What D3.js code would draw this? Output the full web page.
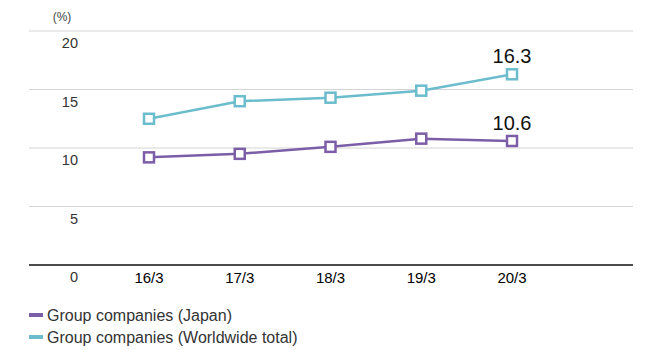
<!DOCTYPE html>
<html>
<head>
<meta charset="utf-8">
<script src="https://cdn.jsdelivr.net/npm/d3@7"></script>
<style>
  body { margin: 0; background: #fff; }
  text { font-family: "Liberation Sans", Arial, sans-serif; }
</style>
</head>
<body>
<svg id="paper"></svg>
<script>
let categories = ["16/3", "17/3", "18/3", "19/3", "20/3"];
let japan = [9.2, 9.5, 10.1, 10.8, 10.6];
let worldwide = [12.5, 14.0, 14.3, 14.9, 16.3];
let yTicks = [0, 5, 10, 15, 20];
let seriesNames = ["Group companies (Japan)", "Group companies (Worldwide total)"];
let seriesColors = ["#7b5ea7", "#6bbccc"];

let width = 653, height = 350;
let plotLeft = 29, plotRight = 633, plotTop = 31, plotBottom = 265;

let svg = d3.select("#paper")
    .attr("width", width)
    .attr("height", height);

let x = d3.scalePoint()
    .domain(categories)
    .range([149, 512]);

let y = d3.scaleLinear()
    .domain([0, 20])
    .range([plotBottom, plotTop]);

// gridlines
svg.selectAll(".grid")
    .data(yTicks.filter(d => d > 0))
    .enter()
    .append("line")
    .attr("x1", plotLeft)
    .attr("x2", plotRight)
    .attr("y1", d => y(d))
    .attr("y2", d => y(d))
    .attr("stroke", "#d4d4d4")
    .attr("stroke-width", 1);

svg.append("line")
    .attr("x1", plotLeft)
    .attr("x2", plotRight)
    .attr("y1", y(0))
    .attr("y2", y(0))
    .attr("stroke", "#111")
    .attr("stroke-width", 1.3);

// y tick labels
svg.selectAll(".ylab")
    .data(yTicks)
    .enter()
    .append("text")
    .attr("x", 78)
    .attr("y", d => y(d) + 17)
    .attr("text-anchor", "end")
    .attr("font-size", 14.5)
    .attr("fill", "#333")
    .text(d => d);

svg.append("text")
    .attr("x", 62)
    .attr("y", 21)
    .attr("text-anchor", "middle")
    .attr("font-size", 12)
    .attr("fill", "#444")
    .text("(%)");

// x labels
svg.selectAll(".xlab")
    .data(categories)
    .enter()
    .append("text")
    .attr("x", d => x(d))
    .attr("y", y(0) + 18)
    .attr("text-anchor", "middle")
    .attr("font-size", 15)
    .attr("fill", "#000")
    .text(d => d);

let line = d3.line()
    .x((d, i) => x(categories[i]))
    .y(d => y(d));

[japan, worldwide].forEach((series, k) => {
    svg.append("path")
        .datum(series)
        .attr("d", line)
        .attr("fill", "none")
        .attr("stroke", seriesColors[k])
        .attr("stroke-width", 2.5);

    svg.selectAll(".mk" + k)
        .data(series)
        .enter()
        .append("rect")
        .attr("x", (d, i) => x(categories[i]) - 5)
        .attr("y", d => y(d) - 5)
        .attr("width", 10)
        .attr("height", 10)
        .attr("fill", "#fff")
        .attr("stroke", seriesColors[k])
        .attr("stroke-width", 2.5);

    let last = series.length - 1;
    svg.append("text")
        .attr("x", x(categories[last]))
        .attr("y", y(series[last]) - 11)
        .attr("text-anchor", "middle")
        .attr("font-size", 20)
        .attr("fill", "#111")
        .text(series[last].toFixed(1));
});

// legend
seriesNames.forEach((name, k) => {
    let ly = 315 + k * 22;
    svg.append("line")
        .attr("x1", 29)
        .attr("x2", 43)
        .attr("y1", ly)
        .attr("y2", ly)
        .attr("stroke", seriesColors[k])
        .attr("stroke-width", 4);
    svg.append("text")
        .attr("x", 47)
        .attr("y", ly + 6)
        .attr("font-size", 16)
        .attr("fill", "#333")
        .text(name);
});
</script>
</body>
</html>
